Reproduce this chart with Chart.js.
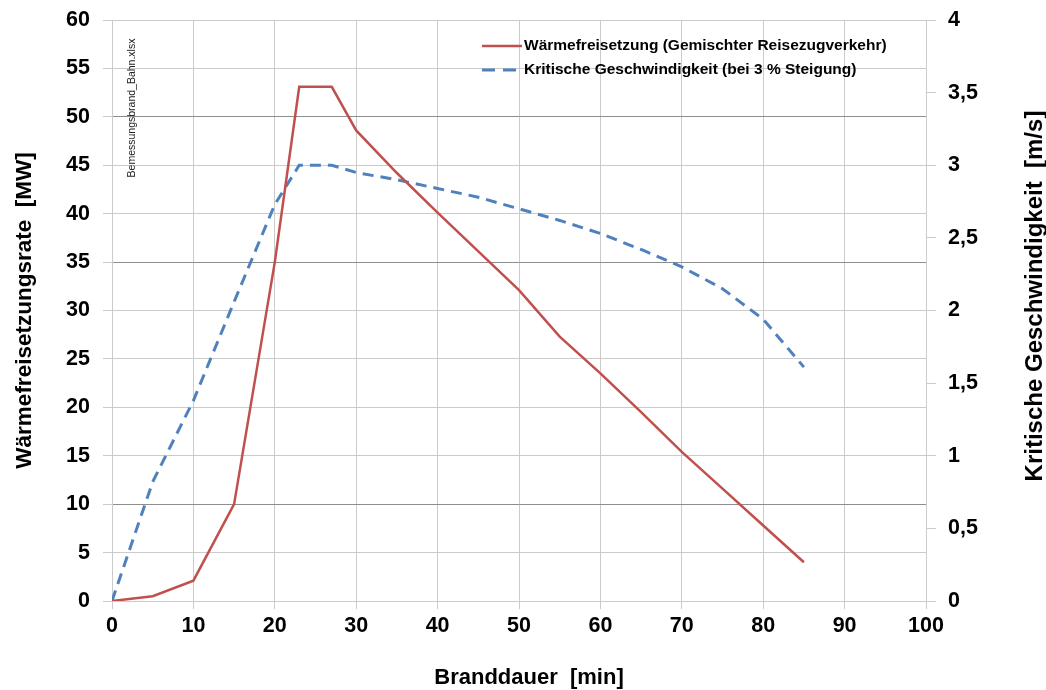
<!DOCTYPE html>
<html>
<head>
<meta charset="utf-8">
<script src="https://cdn.jsdelivr.net/npm/chart.js@4.4.1/dist/chart.umd.min.js"></script>
<style>
    html, body { margin: 0; padding: 0; background: #fff; }
    #wrap { width: 1046px; height: 690px; }
</style>
</head>
<body>
<div id="wrap"><canvas id="chart" width="1046" height="690"></canvas></div>
<script>
        // Heat release rate (left axis, MW)
        const heatTime = [0, 5, 10, 15, 20, 23, 27, 30, 35, 40, 45, 50, 55, 60, 65, 70, 75, 80, 85];
        const heatRate = [0, 0.5, 2.1, 10, 35, 53.1, 53.1, 48.6, 44.2, 40.1, 36.1, 32.1, 27.3, 23.5, 19.5, 15.4, 11.6, 7.8, 4.0];

        // Critical velocity (right axis, m/s)
        const velTime = [0, 5, 10, 15, 20, 23, 25, 27, 30, 35, 40, 45, 50, 55, 60, 65, 70, 75, 80, 85];
        const velValue = [0, 0.82, 1.38, 2.06, 2.73, 3.0, 3.0, 3.0, 2.95, 2.9, 2.84, 2.78, 2.7, 2.62, 2.53, 2.42, 2.3, 2.15, 1.94, 1.61];

        const seriesLabels = ['Wärmefreisetzung (Gemischter Reisezugverkehr)', 'Kritische Geschwindigkeit (bei 3 % Steigung)'];
        const xTitle = 'Branddauer  [min]';
        const rightTitle = 'Kritische Geschwindigkeit  [m/s]';
        const darkGridValues = [10, 35, 50];

        const RED = '#c0504d';
        const BLUE = '#4f81bd';
        const GRID = '#cbcbcb';
        const GRID_DARK = '#8e8e8e';
        const FONT = "'Liberation Sans', Arial, sans-serif";

        Chart.defaults.font.family = FONT;
        Chart.defaults.color = '#000';

        const toPoints = (xs, ys) => xs.map((x, i) => ({ x: x, y: ys[i] }));

        // keep the plot top at the layout padding instead of label overhang
        const trimPadding = width => s => {
            s.width = width;
            s.paddingTop = 10;
            s.paddingBottom = 10;
        };

        // Legend, x / right axis titles and file name drawn by hand
        const overlayPlugin = {
            id: 'overlay',
            afterDraw(chart) {
                const ctx = chart.ctx;
                ctx.save();
                chart.data.datasets.forEach((ds, i) => {
                    const y = 46 + i * 24;
                    ctx.strokeStyle = ds.borderColor;
                    ctx.lineWidth = ds.borderWidth;
                    ctx.setLineDash(ds.borderDash ? [13, 8] : []);
                    ctx.beginPath();
                    ctx.moveTo(482, y);
                    ctx.lineTo(ds.borderDash ? 516 : 522, y);
                    ctx.stroke();
                    ctx.setLineDash([]);
                    ctx.fillStyle = '#000';
                    ctx.font = 'bold 15.5px ' + FONT;
                    ctx.textAlign = 'left';
                    ctx.textBaseline = 'middle';
                    ctx.fillText(ds.label, 524, y);
                });

                ctx.font = 'bold 22px ' + FONT;
                ctx.textAlign = 'center';
                ctx.textBaseline = 'middle';
                ctx.fillText(xTitle, 529, 678);

                ctx.save();
                ctx.translate(1035, 296);
                ctx.rotate(-Math.PI / 2);
                ctx.font = 'bold 24px ' + FONT;
                ctx.fillText(rightTitle, 0, 0);
                ctx.restore();

                ctx.translate(132, 108);
                ctx.rotate(-Math.PI / 2);
                ctx.font = '10.5px ' + FONT;
                ctx.fillStyle = '#222';
                ctx.fillText('Bemessungsbrand_Bahn.xlsx', 0, 0);
                ctx.restore();
            }
        };

        new Chart(document.getElementById('chart'), {
            type: 'scatter',
            data: {
                datasets: [{
                    label: seriesLabels[0],
                    data: toPoints(heatTime, heatRate),
                    yAxisID: 'y',
                    showLine: true,
                    borderColor: RED,
                    borderWidth: 2.5,
                    pointRadius: 0,
                    tension: 0
                }, {
                    label: seriesLabels[1],
                    data: toPoints(velTime, velValue),
                    yAxisID: 'y2',
                    showLine: true,
                    borderColor: BLUE,
                    borderWidth: 3,
                    borderDash: [11, 7],
                    pointRadius: 0,
                    tension: 0
                }]
            },
            options: {
                responsive: false,
                animation: false,
                layout: { padding: { top: 20, left: 0, right: 0, bottom: 0 } },
                plugins: {
                    legend: { display: false },
                    tooltip: { enabled: false }
                },
                scales: {
                    x: {
                        type: 'linear',
                        min: 0,
                        max: 100,
                        afterFit: s => { s.height = 89; },
                        grid: { color: GRID, tickLength: 8 },
                        border: { color: GRID },
                        ticks: {
                            stepSize: 10,
                            padding: 4,
                            font: { size: 21.5, weight: 'bold' }
                        }
                    },
                    y: {
                        position: 'left',
                        min: 0,
                        max: 60,
                        afterFit: trimPadding(112),
                        grid: {
                            color: ctx => darkGridValues.includes(ctx.tick && ctx.tick.value) ? GRID_DARK : GRID,
                            tickColor: GRID,
                            tickLength: 9
                        },
                        border: { color: GRID },
                        ticks: {
                            stepSize: 5,
                            padding: 13,
                            font: { size: 21.5, weight: 'bold' }
                        },
                        title: {
                            display: true,
                            text: 'Wärmefreisetzungsrate  [MW]',
                            font: { size: 22.5, weight: 'bold', lineHeight: 1 },
                            padding: { top: 14, bottom: 0 }
                        }
                    },
                    y2: {
                        position: 'right',
                        min: 0,
                        max: 4,
                        afterFit: trimPadding(120),
                        grid: { drawOnChartArea: false, color: GRID, tickLength: 10 },
                        border: { color: GRID },
                        ticks: {
                            stepSize: 0.5,
                            padding: 12,
                            font: { size: 21.5, weight: 'bold' },
                            callback: v => String(v).replace('.', ',')
                        }
                    }
                }
            },
            plugins: [overlayPlugin]
        });
</script>
</body>
</html>
